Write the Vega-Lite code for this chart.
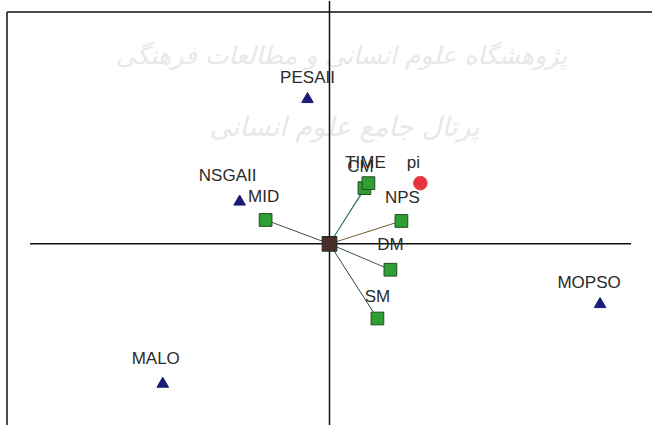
{
  "$schema": "https://vega.github.io/schema/vega-lite/v6.json",
  "width": 653,
  "height": 426,
  "autosize": {"type": "fit", "contains": "padding"},
  "padding": 0,
  "background": "white",
  "config": {"view": {"stroke": null}},
  "datasets": {
    "frame": [
      {"x": -3.23, "y": 2.33, "x2": 3.23, "y2": 2.33, "kind": "frame"},
      {"x": -3.23, "y": 2.33, "x2": -3.23, "y2": -1.82, "kind": "frame"},
      {"x": 0, "y": 2.44, "x2": 0, "y2": -1.82, "kind": "axis"},
      {"x": -3.0, "y": 0, "x2": 3.02, "y2": 0, "kind": "axis"}
    ],
    "links": [
      {"name": "MID", "x0": 0, "y0": 0, "x": -0.64, "y": 0.24, "c": "#4a4a3a"},
      {"name": "TIME", "x0": 0, "y0": 0, "x": 0.35, "y": 0.56, "c": "#2e7d5a"},
      {"name": "CM", "x0": 0, "y0": 0, "x": 0.39, "y": 0.61, "c": "#2e7d5a"},
      {"name": "NPS", "x0": 0, "y0": 0, "x": 0.72, "y": 0.23, "c": "#6a5a2a"},
      {"name": "DM", "x0": 0, "y0": 0, "x": 0.61, "y": -0.26, "c": "#3a5a3a"},
      {"name": "SM", "x0": 0, "y0": 0, "x": 0.48, "y": -0.75, "c": "#2a4a3a"}
    ],
    "points": [
      {"name": "PESAII", "group": "alg", "x": -0.22, "y": 1.47, "lx": -0.22, "ly": 1.67},
      {"name": "NSGAII", "group": "alg", "x": -0.9, "y": 0.44, "lx": -1.02, "ly": 0.68},
      {"name": "MOPSO", "group": "alg", "x": 2.71, "y": -0.59, "lx": 2.6, "ly": -0.39},
      {"name": "MALO", "group": "alg", "x": -1.67, "y": -1.39, "lx": -1.74, "ly": -1.16},
      {"name": "MID", "group": "ind", "x": -0.64, "y": 0.24, "lx": -0.66, "ly": 0.47},
      {"name": "TIME", "group": "ind", "x": 0.35, "y": 0.56, "lx": 0.36, "ly": 0.81},
      {"name": "CM", "group": "ind", "x": 0.39, "y": 0.61, "lx": 0.31, "ly": 0.77},
      {"name": "NPS", "group": "ind", "x": 0.72, "y": 0.23, "lx": 0.73, "ly": 0.46},
      {"name": "DM", "group": "ind", "x": 0.61, "y": -0.26, "lx": 0.61, "ly": -0.01},
      {"name": "SM", "group": "ind", "x": 0.48, "y": -0.75, "lx": 0.48, "ly": -0.53},
      {"name": "pi", "group": "ideal", "x": 0.91, "y": 0.61, "lx": 0.84, "ly": 0.81},
      {"name": "", "group": "origin", "x": 0, "y": 0, "lx": 0, "ly": 0}
    ],
    "watermark": [
      {"t": "پژوهشگاه علوم انسانی و مطالعات فرهنگی", "x": 0.12, "y": 1.89, "s": 25},
      {"t": "پرتال جامع علوم انسانی", "x": 0.15, "y": 1.16, "s": 27}
    ]
  },
  "layer": [
    {
      "data": {"name": "watermark"},
      "mark": {"type": "text", "font": "DejaVu Sans", "color": "#e8e8e8", "fontStyle": "italic"},
      "encoding": {
        "x": {"field": "x", "type": "quantitative", "scale": {"domain": [-3.3, 3.23], "nice": false, "zero": false}, "axis": null},
        "y": {"field": "y", "type": "quantitative", "scale": {"domain": [-1.82, 2.44], "nice": false, "zero": false}, "axis": null},
        "text": {"field": "t", "type": "nominal"},
        "size": {"field": "s", "type": "quantitative", "scale": null}
      }
    },
    {
      "data": {"name": "frame"},
      "mark": {"type": "rule", "color": "#111111", "strokeWidth": 1.5},
      "encoding": {
        "x": {"field": "x", "type": "quantitative", "scale": {"domain": [-3.3, 3.23], "nice": false, "zero": false}, "axis": null},
        "y": {"field": "y", "type": "quantitative", "scale": {"domain": [-1.82, 2.44], "nice": false, "zero": false}, "axis": null},
        "x2": {"field": "x2"},
        "y2": {"field": "y2"}
      }
    },
    {
      "data": {"name": "links"},
      "mark": {"type": "rule", "strokeWidth": 1},
      "encoding": {
        "x": {"field": "x0", "type": "quantitative", "scale": {"domain": [-3.3, 3.23], "nice": false, "zero": false}, "axis": null},
        "y": {"field": "y0", "type": "quantitative", "scale": {"domain": [-1.82, 2.44], "nice": false, "zero": false}, "axis": null},
        "x2": {"field": "x"},
        "y2": {"field": "y"},
        "color": {"field": "c", "type": "nominal", "scale": null}
      }
    },
    {
      "data": {"name": "points"},
      "mark": {"type": "point", "filled": true, "strokeWidth": 1, "opacity": 1},
      "encoding": {
        "x": {"field": "x", "type": "quantitative", "scale": {"domain": [-3.3, 3.23], "nice": false, "zero": false}, "axis": null},
        "y": {"field": "y", "type": "quantitative", "scale": {"domain": [-1.82, 2.44], "nice": false, "zero": false}, "axis": null},
        "shape": {"field": "group", "type": "nominal", "scale": {"domain": ["alg", "ind", "ideal", "origin"], "range": ["triangle-up", "square", "circle", "square"]}, "legend": null},
        "fill": {"field": "group", "type": "nominal", "scale": {"domain": ["alg", "ind", "ideal", "origin"], "range": ["#1c1c78", "#2f9e34", "#e8333f", "#4a2e28"]}, "legend": null},
        "stroke": {"field": "group", "type": "nominal", "scale": {"domain": ["alg", "ind", "ideal", "origin"], "range": ["#1c1c78", "#1f4f1f", "#e05050", "#222222"]}, "legend": null},
        "size": {"field": "group", "type": "nominal", "scale": {"domain": ["alg", "ind", "ideal", "origin"], "range": [135, 215, 120, 150]}, "legend": null}
      }
    },
    {
      "data": {"name": "points"},
      "mark": {"type": "text", "font": "Liberation Sans", "fontSize": 17, "color": "#2a2a2a", "baseline": "middle", "align": "center"},
      "encoding": {
        "x": {"field": "lx", "type": "quantitative", "scale": {"domain": [-3.3, 3.23], "nice": false, "zero": false}, "axis": null},
        "y": {"field": "ly", "type": "quantitative", "scale": {"domain": [-1.82, 2.44], "nice": false, "zero": false}, "axis": null},
        "text": {"field": "name", "type": "nominal"}
      }
    }
  ]
}
